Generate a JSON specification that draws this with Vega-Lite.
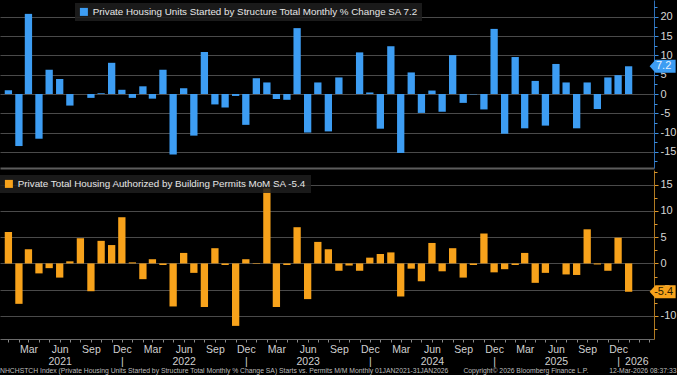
{
  "$schema": "https://vega.github.io/schema/vega-lite/v6.json",
  "background": "#000000",
  "padding": 0,
  "spacing": 2,
  "config": {
    "view": {"stroke": null},
    "font": "Liberation Sans",
    "locale": {"number": {"decimal": ".", "thousands": ",", "grouping": [3], "currency": ["$", ""], "minus": "-"}}
  },
  "data": {
    "format": {"parse": {"month": "date"}},
    "values": [
      {"month": "2021-01-01", "starts": 1.0, "permits": 6.0},
      {"month": "2021-02-01", "starts": -13.5, "permits": -7.7},
      {"month": "2021-03-01", "starts": 20.8, "permits": 2.7},
      {"month": "2021-04-01", "starts": -11.6, "permits": -1.9},
      {"month": "2021-05-01", "starts": 6.3, "permits": -0.9},
      {"month": "2021-06-01", "starts": 3.9, "permits": -2.7},
      {"month": "2021-07-01", "starts": -3.0, "permits": 0.4},
      {"month": "2021-08-01", "starts": 0.0, "permits": 4.8},
      {"month": "2021-09-01", "starts": -1.0, "permits": -5.3},
      {"month": "2021-10-01", "starts": 0.2, "permits": 4.3},
      {"month": "2021-11-01", "starts": 8.1, "permits": 3.5},
      {"month": "2021-12-01", "starts": 1.1, "permits": 8.8},
      {"month": "2022-01-01", "starts": -1.0, "permits": 0.2},
      {"month": "2022-02-01", "starts": 2.0, "permits": -3.0},
      {"month": "2022-03-01", "starts": -1.2, "permits": 0.8},
      {"month": "2022-04-01", "starts": 6.3, "permits": -0.3},
      {"month": "2022-05-01", "starts": -15.7, "permits": -8.2},
      {"month": "2022-06-01", "starts": 1.5, "permits": 2.0},
      {"month": "2022-07-01", "starts": -10.8, "permits": -1.8},
      {"month": "2022-08-01", "starts": 10.9, "permits": -8.3},
      {"month": "2022-09-01", "starts": -2.7, "permits": 2.9},
      {"month": "2022-10-01", "starts": -3.5, "permits": -0.3},
      {"month": "2022-11-01", "starts": -0.5, "permits": -11.9},
      {"month": "2022-12-01", "starts": -8.0, "permits": 0.8},
      {"month": "2023-01-01", "starts": 4.1, "permits": -0.1},
      {"month": "2023-02-01", "starts": 3.0, "permits": 14.3},
      {"month": "2023-03-01", "starts": -1.3, "permits": -8.3},
      {"month": "2023-04-01", "starts": -1.5, "permits": -0.3},
      {"month": "2023-05-01", "starts": 17.1, "permits": 6.9},
      {"month": "2023-06-01", "starts": -10.0, "permits": -6.8},
      {"month": "2023-07-01", "starts": 3.0, "permits": 4.1},
      {"month": "2023-08-01", "starts": -9.7, "permits": 2.7},
      {"month": "2023-09-01", "starts": 4.3, "permits": -1.4},
      {"month": "2023-10-01", "starts": 0.0, "permits": -0.4},
      {"month": "2023-11-01", "starts": 10.8, "permits": -1.4},
      {"month": "2023-12-01", "starts": 0.4, "permits": 1.1},
      {"month": "2024-01-01", "starts": -9.0, "permits": 1.8},
      {"month": "2024-02-01", "starts": 12.4, "permits": 2.1},
      {"month": "2024-03-01", "starts": -15.3, "permits": -6.3},
      {"month": "2024-04-01", "starts": 5.6, "permits": -1.0},
      {"month": "2024-05-01", "starts": -4.9, "permits": -3.4},
      {"month": "2024-06-01", "starts": 0.9, "permits": 3.9},
      {"month": "2024-07-01", "starts": -4.6, "permits": -1.5},
      {"month": "2024-08-01", "starts": 10.1, "permits": 2.9},
      {"month": "2024-09-01", "starts": -2.3, "permits": -2.7},
      {"month": "2024-10-01", "starts": -0.1, "permits": -0.3},
      {"month": "2024-11-01", "starts": -4.0, "permits": 5.7},
      {"month": "2024-12-01", "starts": 16.9, "permits": -1.7},
      {"month": "2025-01-01", "starts": -10.3, "permits": -1.1},
      {"month": "2025-02-01", "starts": 9.6, "permits": -0.3},
      {"month": "2025-03-01", "starts": -8.9, "permits": 2.0},
      {"month": "2025-04-01", "starts": 3.4, "permits": -3.7},
      {"month": "2025-05-01", "starts": -8.2, "permits": -1.8},
      {"month": "2025-06-01", "starts": 7.8, "permits": 0.0},
      {"month": "2025-07-01", "starts": 3.0, "permits": -2.1},
      {"month": "2025-08-01", "starts": -8.9, "permits": -2.2},
      {"month": "2025-09-01", "starts": 3.0, "permits": 6.5},
      {"month": "2025-10-01", "starts": -3.9, "permits": -0.2},
      {"month": "2025-11-01", "starts": 4.3, "permits": -1.4},
      {"month": "2025-12-01", "starts": 4.9, "permits": 4.9},
      {"month": "2026-01-01", "starts": 7.2, "permits": -5.4}
    ]
  },
  "resolve": {"scale": {"color": "independent"}, "legend": {"color": "independent"}},
  "vconcat": [
    {
      "width": 654,
      "height": 168,
      "resolve": {"axis": {"y": "independent"}},
      "layer": [
        {
          "mark": {"type": "bar", "width": 7.3},
          "encoding": {
            "x": {
              "field": "month", "type": "temporal",
              "scale": {"type": "utc", "nice": false, "domain": [{"year": 2020, "month": 12, "date": 22, "utc": true}, {"year": 2026, "month": 3, "date": 2, "utc": true}]},
              "axis": {"orient": "bottom", "title": null, "labels": false, "ticks": false, "grid": false, "domain": true, "domainColor": "#5c5c5c", "domainWidth": 2}
            },
            "y": {
              "field": "starts", "type": "quantitative",
              "scale": {"domain": [-19.2, 24.4], "nice": false, "zero": false},
              "axis": {"orient": "right", "title": null, "values": [-15, -10, -5, 0, 5, 10, 15, 20], "tickCount": 20, "labelOverlap": false, "grid": true, "gridColor": "#4a4a4a", "gridWidth": 1, "domainColor": "#2d6fb8", "tickColor": "#3d8fe0", "tickSize": 4, "labelColor": "#d6d6d6", "labelFontSize": 11, "labelPadding": 2, "labelFont": "Liberation Sans"}
            },
            "color": {
              "datum": "Private Housing Units Started by Structure Total Monthly % Change SA 7.2",
              "scale": {"range": ["#3d9df3"]},
              "legend": {"orient": "none", "legendX": 75, "legendY": 3, "title": null, "fillColor": "rgba(30,30,30,0.85)", "padding": 4, "labelColor": "#e6e6e6", "labelFontSize": 9.8, "labelFont": "Liberation Sans", "labelLimit": 600, "symbolType": "square", "symbolSize": 64, "symbolStrokeWidth": 0, "symbolOpacity": 1, "labelOffset": 4, "zindex": 2}
            }
          }
        },
        {
          "transform": [{"filter": "utcyear(datum.month) == 2026"}],
          "mark": {"type": "point", "shape": "M -1 0 L -0.55 -0.5 L 1 -0.5 L 1 0.5 L -0.55 0.5 Z", "size": 676, "filled": true, "fill": "#3d9df3", "opacity": 1, "strokeWidth": 0, "xOffset": 34},
          "encoding": {
            "x": {"field": "month", "type": "temporal"},
            "y": {"field": "starts", "type": "quantitative", "axis": {"orient": "right", "title": null, "values": [-17.5, -12.5, -7.5, -2.5, 2.5, 7.5, 12.5, 17.5, 22.5], "tickCount": 20, "labels": false, "grid": false, "domain": false, "ticks": true, "tickColor": "#3d8fe0", "tickSize": 3}}
          }
        },
        {
          "transform": [{"filter": "utcyear(datum.month) == 2026"}],
          "mark": {"type": "text", "xOffset": 35, "fontSize": 11, "color": "#e4f1ff", "font": "Liberation Sans"},
          "encoding": {
            "x": {"field": "month", "type": "temporal"},
            "y": {"field": "starts", "type": "quantitative", "axis": null},
            "text": {"field": "starts", "type": "quantitative", "format": ".1f"}
          }
        }
      ]
    },
    {
      "width": 654,
      "height": 169,
      "resolve": {"axis": {"y": "independent"}},
      "title": {
        "text": "NHCHSTCH Index (Private Housing Units Started by Structure Total Monthly % Change SA) Starts vs. Permits M/M Monthly 01JAN2021-31JAN2026\u00a0\u00a0\u00a0\u00a0\u00a0\u00a0\u00a0\u00a0Copyright\u00a9 2026 Bloomberg Finance L.P.\u00a0\u00a0\u00a0\u00a0\u00a0\u00a0\u00a0\u00a0\u00a0\u00a0\u00a012-Mar-2026 08:37:33",
        "orient": "bottom", "anchor": "start", "fontSize": 6.8, "fontWeight": "normal", "color": "#bdbdbd", "offset": 1, "font": "Liberation Sans"
      },
      "layer": [
        {
          "mark": {"type": "bar", "width": 7.3},
          "encoding": {
            "x": {
              "field": "month", "type": "temporal",
              "scale": {"type": "utc", "nice": false, "domain": [{"year": 2020, "month": 12, "date": 22, "utc": true}, {"year": 2026, "month": 3, "date": 2, "utc": true}]},
              "axis": {
                "orient": "bottom", "title": null, "grid": false,
                "tickCount": {"interval": "month", "step": 1},
                "labelExpr": "utcyear(datum.value) >= 2026 ? (utcmonth(datum.value) == 0 ? ['', '2026'] : '') : utcmonth(datum.value) == 2 ? 'Mar' : utcmonth(datum.value) == 5 ? ['Jun', utcFormat(datum.value, '%Y')] : utcmonth(datum.value) == 8 ? 'Sep' : utcmonth(datum.value) == 11 ? ['Dec', '|'] : ''",
                "labelOverlap": false, "labelFlush": false, "labelBound": false,
                "labelAlign": {"condition": {"test": "utcyear(datum.value) == 2026", "value": "left"}, "value": "center"},
                "labelOffset": {"condition": {"test": "utcyear(datum.value) == 2026", "value": -4}, "value": 0},
                "domain": true, "domainColor": "#6a6a6a", "tickColor": "#8a8a8a", "tickSize": 3,
                "labelColor": "#d0d0d0", "labelFontSize": 10.5, "labelPadding": 2, "labelLineHeight": 12, "labelFont": "Liberation Sans"
              }
            },
            "y": {
              "field": "permits", "type": "quantitative",
              "scale": {"domain": [-14.4, 17.8], "nice": false, "zero": false},
              "axis": {"orient": "right", "title": null, "values": [-10, -5, 0, 5, 10, 15], "tickCount": 20, "labelOverlap": false, "grid": true, "gridColor": "#4a4a4a", "gridWidth": 1, "domainColor": "#b07a22", "tickColor": "#e0982a", "tickSize": 4, "labelColor": "#d6d6d6", "labelFontSize": 11, "labelPadding": 2, "labelFont": "Liberation Sans"}
            },
            "color": {
              "datum": "Private Total Housing Authorized by Building Permits MoM SA -5.4",
              "scale": {"range": ["#f7a21b"]},
              "legend": {"orient": "none", "legendX": 0, "legendY": 5, "title": null, "fillColor": "rgba(30,30,30,0.85)", "padding": 4, "labelColor": "#e6e6e6", "labelFontSize": 9.8, "labelFont": "Liberation Sans", "labelLimit": 600, "symbolType": "square", "symbolSize": 64, "symbolStrokeWidth": 0, "symbolOpacity": 1, "labelOffset": 4, "zindex": 2}
            }
          }
        },
        {
          "transform": [{"filter": "utcyear(datum.month) == 2026"}],
          "mark": {"type": "point", "shape": "M -1 0 L -0.55 -0.5 L 1 -0.5 L 1 0.5 L -0.55 0.5 Z", "size": 676, "filled": true, "fill": "#f7a21b", "opacity": 1, "strokeWidth": 0, "xOffset": 34},
          "encoding": {
            "x": {"field": "month", "type": "temporal"},
            "y": {"field": "permits", "type": "quantitative", "axis": {"orient": "right", "title": null, "values": [-12.5, -7.5, -2.5, 2.5, 7.5, 12.5, 17.5], "tickCount": 20, "labels": false, "grid": false, "domain": false, "ticks": true, "tickColor": "#e0982a", "tickSize": 3}}
          }
        },
        {
          "transform": [{"filter": "utcyear(datum.month) == 2026"}],
          "mark": {"type": "text", "xOffset": 35, "fontSize": 11, "color": "#2a1a00", "font": "Liberation Sans"},
          "encoding": {
            "x": {"field": "month", "type": "temporal"},
            "y": {"field": "permits", "type": "quantitative", "axis": null},
            "text": {"field": "permits", "type": "quantitative", "format": ".1f"}
          }
        }
      ]
    }
  ]
}
